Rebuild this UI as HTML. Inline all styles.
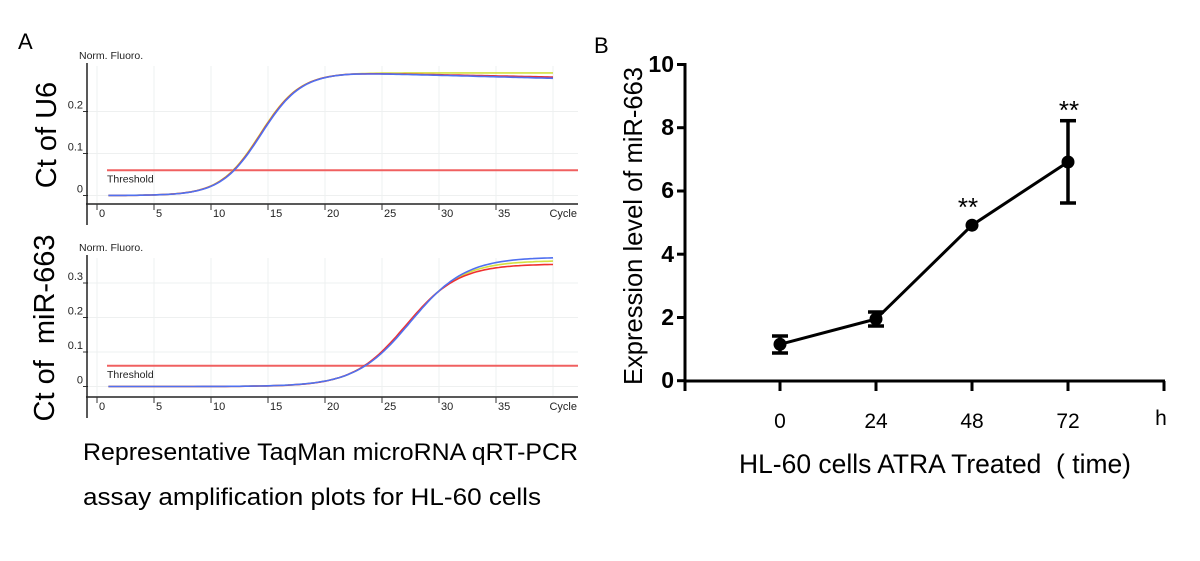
<!DOCTYPE html>
<html><head><meta charset="utf-8"><style>
html,body{margin:0;padding:0;background:#fff;}
svg{display:block;font-family:"Liberation Sans",Arial,sans-serif;}
</style></head><body>
<svg id="s" width="1200" height="561" viewBox="0 0 1200 561" xmlns="http://www.w3.org/2000/svg">
<rect width="1200" height="561" fill="#fff"/>
<text x="18" y="49" font-size="22">A</text>
<text x="594" y="53" font-size="22">B</text>
<g id="pa"></g>
<text x="83" y="460" font-size="24.5" textLength="495" lengthAdjust="spacingAndGlyphs">Representative TaqMan microRNA qRT-PCR</text>
<text x="83" y="505" font-size="24.5" textLength="458" lengthAdjust="spacingAndGlyphs">assay amplification plots for HL-60 cells</text>
<text transform="translate(56,135) rotate(-90)" font-size="29" text-anchor="middle">Ct of U6</text>
<text transform="translate(54,328) rotate(-90)" font-size="29" text-anchor="middle" xml:space="preserve">Ct of  miR-663</text>
<!-- Panel B -->
<g stroke="#000" stroke-width="3" fill="none">
<line x1="685" y1="63" x2="685" y2="391"/>
<line x1="684" y1="381" x2="1165" y2="381"/>
<line x1="677" y1="64.5" x2="685" y2="64.5"/>
<line x1="677" y1="127.7" x2="685" y2="127.7"/>
<line x1="677" y1="191" x2="685" y2="191"/>
<line x1="677" y1="254.2" x2="685" y2="254.2"/>
<line x1="677" y1="317.5" x2="685" y2="317.5"/>
<line x1="677" y1="380.7" x2="685" y2="380.7"/>
<line x1="780" y1="381" x2="780" y2="391"/>
<line x1="876" y1="381" x2="876" y2="391"/>
<line x1="972" y1="381" x2="972" y2="391"/>
<line x1="1068" y1="381" x2="1068" y2="391"/>
<line x1="1164" y1="381" x2="1164" y2="391"/>
</g>
<g font-size="23" font-weight="bold" text-anchor="end">
<text x="674" y="72">10</text><text x="674" y="135">8</text><text x="674" y="198">6</text>
<text x="674" y="262">4</text><text x="674" y="325">2</text><text x="674" y="388">0</text>
</g>
<g font-size="21" text-anchor="middle">
<text x="780" y="428">0</text><text x="876" y="428">24</text><text x="972" y="428">48</text><text x="1068" y="428">72</text>
<text x="1161" y="425">h</text>
</g>
<text x="935" y="473" font-size="27" text-anchor="middle" xml:space="preserve" textLength="392" lengthAdjust="spacingAndGlyphs">HL-60 cells ATRA Treated  ( time)</text>
<text transform="translate(642,226) rotate(-90)" font-size="26" text-anchor="middle" textLength="318" lengthAdjust="spacingAndGlyphs">Expression level of miR-663</text>
<polyline points="780,344.3 876,319 972,225.2 1068,162" stroke="#000" stroke-width="3" fill="none"/>
<g stroke="#000" stroke-width="3.5">
<line x1="780" y1="336" x2="780" y2="353"/><line x1="772" y1="336" x2="788" y2="336"/><line x1="772" y1="353" x2="788" y2="353"/>
<line x1="876" y1="312" x2="876" y2="326"/><line x1="868" y1="312" x2="884" y2="312"/><line x1="868" y1="326" x2="884" y2="326"/>
<line x1="1068" y1="120.7" x2="1068" y2="203"/><line x1="1060" y1="120.7" x2="1076" y2="120.7"/><line x1="1060" y1="203" x2="1076" y2="203"/>
</g>
<g fill="#000">
<circle cx="780" cy="344.3" r="6.5"/><circle cx="876" cy="319" r="6.5"/><circle cx="972" cy="225.2" r="6.5"/><circle cx="1068" cy="162" r="6.5"/>
</g>
<text x="968" y="216" font-size="26" text-anchor="middle">**</text>
<text x="1069" y="119" font-size="26" text-anchor="middle">**</text>
</svg>
<script>
(function(){
var g=document.getElementById('pa'),h='';
function X(c){return 97+c*11.4;}
function plot(y0,unit,ticksY,axTop,axY,axBot,thr,curves){
  for(var c=0;c<=40;c+=5){h+='<line x1="'+X(c)+'" y1="'+(axTop+3)+'" x2="'+X(c)+'" y2="'+(axY-1)+'" stroke="#eef0f0" stroke-width="1"/>';}
  ticksY.forEach(function(v){var y=y0-v*unit;h+='<line x1="87" y1="'+y+'" x2="578" y2="'+y+'" stroke="#eef0f0" stroke-width="1"/>';
    h+='<line x1="83" y1="'+y+'" x2="88" y2="'+y+'" stroke="#333" stroke-width="1"/>';
    h+='<text x="83" y="'+(y-3)+'" font-size="11" text-anchor="end" fill="#222">'+(v===0?'0':v.toFixed(1))+'</text>';});
  h+='<line x1="87" y1="'+axTop+'" x2="87" y2="'+axBot+'" stroke="#222" stroke-width="1.5"/>';
  h+='<line x1="86" y1="'+axY+'" x2="578" y2="'+axY+'" stroke="#222" stroke-width="1.5"/>';
  for(var c=0;c<=35;c+=5){h+='<line x1="'+X(c)+'" y1="'+axY+'" x2="'+X(c)+'" y2="'+(axY+6)+'" stroke="#333" stroke-width="1"/>';
    h+='<text x="'+(X(c)+2)+'" y="'+(axY+13)+'" font-size="11" fill="#222">'+c+'</text>';}
  h+='<text x="577" y="'+(axY+13)+'" font-size="11" text-anchor="end" fill="#222">Cycle</text>';
  h+='<text x="79" y="'+(axTop-4)+'" font-size="10.5" fill="#222">Norm. Fluoro.</text>';
  var ty=y0-thr*unit;
  h+='<line x1="107" y1="'+ty+'" x2="578" y2="'+ty+'" stroke="#f06060" stroke-width="2"/>';
  h+='<text x="107" y="'+(ty+12)+'" font-size="10.5" fill="#222">Threshold</text>';
  curves.forEach(function(cv){var p=[];for(var c=1;c<=40;c+=0.25){p.push(X(c).toFixed(1)+','+(y0-cv.f(c)*unit).toFixed(1));}
    h+='<polyline points="'+p.join(' ')+'" fill="none" stroke="'+cv.col+'" stroke-width="1.6"/>';});
}
function sig(A,m,s,d){return function(c){var v=A/(1+Math.exp(-(c-m)/s));if(d&&c>22)v-=d*(c-22)/18;return v;};}
plot(195.5,420,[0,0.1,0.2],63,204,225,0.06,[
 {col:'#d4e040',f:sig(0.292,14.3,1.75,0)},
 {col:'#e03040',f:sig(0.292,14.35,1.75,0.01)},
 {col:'#5070f0',f:sig(0.292,14.4,1.75,0.013)}]);
plot(386.5,345,[0,0.1,0.2,0.3],255,397,418,0.06,[
 {col:'#d4e040',f:function(c){return 0.365/(1+Math.exp(-(c-27.3)/2.35));}},
 {col:'#f03030',f:function(c){return 0.355/(1+Math.exp(-(c-27.1)/2.3));}},
 {col:'#5070f0',f:function(c){return 0.375/(1+Math.exp(-(c-27.5)/2.4));}}]);
g.innerHTML=h;
})();
</script>
</body></html>
